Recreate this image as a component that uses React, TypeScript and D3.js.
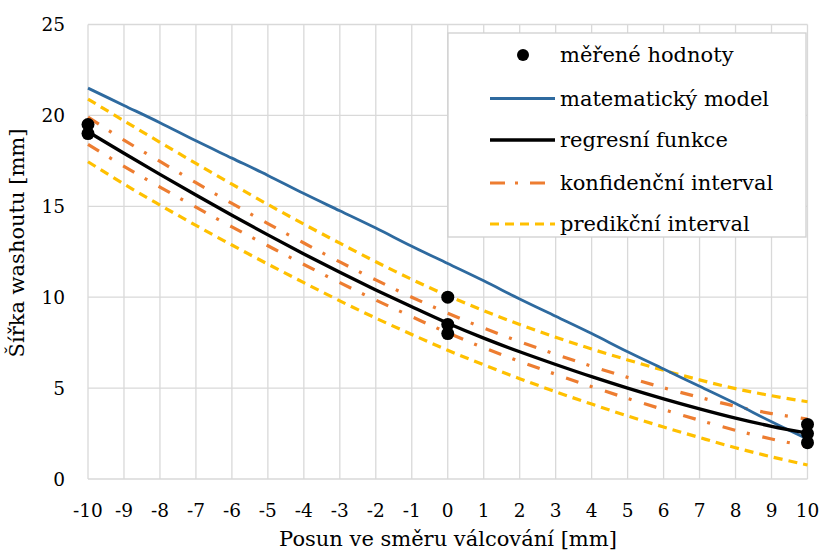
import React from "react";
import * as d3 from "d3";

const xValues = [-10, -9, -8, -7, -6, -5, -4, -3, -2, -1, 0, 1, 2, 3, 4, 5, 6, 7, 8, 9, 10];
const modelValues = [21.5, 20.55, 19.6, 18.6, 17.65, 16.7, 15.7, 14.75, 13.8, 12.8, 11.85, 10.9, 9.9, 8.95, 8.0, 7.0, 6.05, 5.1, 4.15, 3.15, 2.2];
const regressionValues = [19.1, 17.92, 16.76, 15.62, 14.51, 13.43, 12.38, 11.37, 10.4, 9.47, 8.57, 7.75, 7.0, 6.3, 5.63, 5.0, 4.41, 3.86, 3.35, 2.9, 2.52];
const confUpper = [19.9, 18.64, 17.47, 16.3, 15.16, 14.05, 12.98, 11.94, 10.95, 10.0, 9.12, 8.3, 7.55, 6.86, 6.2, 5.59, 5.02, 4.49, 4.0, 3.6, 3.3];
const confLower = [18.4, 17.2, 16.06, 14.95, 13.87, 12.83, 11.8, 10.8, 9.84, 8.93, 8.04, 7.22, 6.47, 5.76, 5.08, 4.43, 3.82, 3.23, 2.68, 2.2, 1.8];
const predUpper = [20.9, 19.7, 18.52, 17.36, 16.22, 15.1, 14.02, 12.97, 11.95, 10.98, 10.08, 9.26, 8.5, 7.8, 7.15, 6.55, 5.98, 5.45, 4.97, 4.58, 4.25];
const predLower = [17.45, 16.22, 15.07, 13.95, 12.87, 11.82, 10.8, 9.8, 8.85, 7.95, 7.08, 6.28, 5.52, 4.8, 4.12, 3.47, 2.86, 2.28, 1.72, 1.22, 0.77];
const measuredX = [-10, -10, 0, 0, 0, 10, 10, 10];
const measuredY = [19.5, 19.0, 10.0, 8.5, 8.0, 3.0, 2.5, 2.0];

const xTicks = xValues;
const yTicks = [0, 5, 10, 15, 20, 25];
const legendLabels = ["měřené hodnoty", "matematický model", "regresní funkce", "konfidenční interval", "predikční interval"];
const xTitle = "Posun ve směru válcování [mm]";
const yTitle = "Šířka washoutu [mm]";

const FONT = "'DejaVu Serif', serif";
const BLUE = "#2E6A9F";
const ORANGE = "#ED7D31";
const YELLOW = "#FFC000";
const GRID = "#D9D9D9";

export default function App() {
  const W = 822, H = 551;
  const x = d3.scaleLinear().domain([-10, 10]).range([88, 807.5]);
  const y = d3.scaleLinear().domain([0, 25]).range([479, 24.5]);

  const line = d3
    .line<number>()
    .x((_, i) => x(xValues[i]))
    .y((d) => y(d))
    .curve(d3.curveCatmullRom);

  const series = [
    { values: predUpper, color: YELLOW, width: 3.2, dash: "9 6" },
    { values: predLower, color: YELLOW, width: 3.2, dash: "9 6" },
    { values: confUpper, color: ORANGE, width: 3.2, dash: "13 12 3 13" },
    { values: confLower, color: ORANGE, width: 3.2, dash: "13 12 3 13" },
    { values: modelValues, color: BLUE, width: 2.8, dash: undefined },
    { values: regressionValues, color: "#000", width: 3.3, dash: undefined },
  ];

  const legendY = [55, 98.5, 140, 183, 224];
  const legendStyles = [
    null,
    { color: BLUE, width: 2.8, dash: undefined },
    { color: "#000", width: 3.3, dash: undefined },
    { color: ORANGE, width: 3.2, dash: "15 10 3 12" },
    { color: YELLOW, width: 3.2, dash: "9 6" },
  ];

  return (
    <svg width={W} height={H} style={{ position: "absolute", left: 0, top: 0, background: "#fff" }} fontFamily={FONT}>
      <rect x={0} y={0} width={W} height={H} fill="#fff" />
      {xTicks.map((t) => (
        <line key={"gx" + t} x1={x(t)} x2={x(t)} y1={y(0)} y2={y(25)} stroke={GRID} strokeWidth={1.3} />
      ))}
      {yTicks.map((t) => (
        <line key={"gy" + t} x1={x(-10)} x2={x(10)} y1={y(t)} y2={y(t)} stroke={GRID} strokeWidth={1.3} />
      ))}
      {series.map((s, i) => (
        <path
          key={"s" + i}
          d={line(s.values) || ""}
          fill="none"
          stroke={s.color}
          strokeWidth={s.width}
          strokeDasharray={s.dash}
        />
      ))}
      {measuredX.map((mx, i) => (
        <circle key={"m" + i} cx={x(mx)} cy={y(measuredY[i])} r={6.5} fill="#000" />
      ))}
      {yTicks.map((t) => (
        <text key={"ty" + t} x={65} y={y(t)} textAnchor="end" dominantBaseline="central" fontSize={18.5} fill="#000">
          {t}
        </text>
      ))}
      {xTicks.map((t) => (
        <text key={"tx" + t} x={x(t)} y={510} textAnchor="middle" dominantBaseline="central" fontSize={18.5} fill="#000">
          {t}
        </text>
      ))}
      <text x={448} y={539} textAnchor="middle" dominantBaseline="central" fontSize={21} fill="#000">
        {xTitle}
      </text>
      <text
        transform={`translate(17,243) rotate(-90)`}
        textAnchor="middle"
        dominantBaseline="central"
        fontSize={21}
        fill="#000"
      >
        {yTitle}
      </text>
      <rect x={448} y={33} width={358} height={204} fill="#fff" stroke="#D0D0D0" strokeWidth={1.3} />
      {legendLabels.map((lab, i) => {
        const st = legendStyles[i];
        return (
          <g key={"l" + i}>
            {st ? (
              <line x1={490} x2={555} y1={legendY[i]} y2={legendY[i]} stroke={st.color} strokeWidth={st.width} strokeDasharray={st.dash} />
            ) : (
              <circle cx={523} cy={legendY[i]} r={6} fill="#000" />
            )}
            <text x={560} y={legendY[i]} dominantBaseline="central" fontSize={21} fill="#000">
              {lab}
            </text>
          </g>
        );
      })}
    </svg>
  );
}
